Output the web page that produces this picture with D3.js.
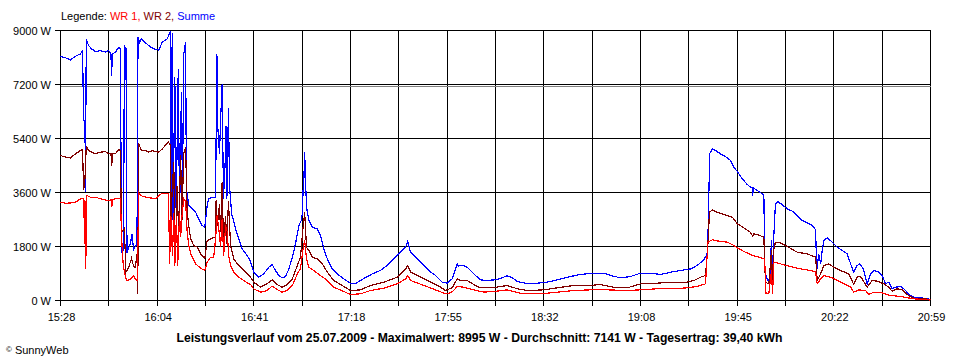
<!DOCTYPE html>
<html><head><meta charset="utf-8">
<script src="https://cdn.jsdelivr.net/npm/d3@7"></script>
<style>
body{margin:0;background:#fff;}
svg text{font-family:"Liberation Sans",Arial,sans-serif;}
</style></head>
<body><svg id="c" width="960" height="360"></svg>
<script>
// time in minutes after 15:28, power in W
const startLabel = "15:28";
const totalMinutes = 331;
const xTickLabels = ["15:28","16:04","16:41","17:18","17:55","18:32","19:08","19:45","20:22","20:59"];
const yTicks = [0,1800,3600,5400,7200,9000];
const yTickLabels = ["0 W","1800 W","3600 W","5400 W","7200 W","9000 W"];
const average = 7141;
const title = "Leistungsverlauf vom 25.07.2009 - Maximalwert: 8995 W - Durchschnitt: 7141 W - Tagesertrag: 39,40 kWh";
const seriesNames = ["WR 1", "WR 2", "Summe"];
const seriesColors = ["#ff0000", "#800000", "#0000ff"];

const summe = [[0,8140],[1.9,8090],[3.8,8020],[5.7,8140],[7.6,8220],[8.4,8330],[8.8,6000],[9.3,6000],[9.5,3610],[9.8,8700],[10.7,8500],[11.8,8390],[13.3,8300],[15.2,8330],[17.1,8280],[18.3,8330],[19.2,8220],[19.4,7500],[19.8,8220],[20.9,8280],[22.1,8440],[22.8,8400],[23.2,1600],[24.0,1700],[24.3,8480],[24.9,8400],[25.3,1600],[25.9,1750],[26.6,1900],[27.2,2200],[27.8,1700],[28.5,1800],[29.1,1900],[29.5,8780],[30.1,8600],[30.8,8720],[31.6,8650],[33.5,8500],[35.4,8390],[36.9,8360],[37.3,8330],[38.7,8610],[40.6,8720],[41.5,8900],[41.9,8995],[42.1,2700],[42.5,8900],[42.8,2700],[43.5,7440],[44.0,2940],[44.8,7720],[45.3,2800],[46.0,6940],[46.4,3600],[46.9,8220],[47.6,8610],[47.9,3720],[48.8,3170],[50.1,3060],[51.4,2940],[52.6,2720],[53.9,2500],[54.9,2440],[55.8,3170],[56.4,3390],[57.7,3440],[58.7,3440],[59.0,3450],[59.5,8220],[59.8,5830],[60.5,4900],[60.9,6000],[61.5,7220],[62.0,3390],[62.6,4500],[63.0,5830],[63.3,3400],[63.9,6400],[64.3,3830],[65.1,2900],[65.6,2730],[66.6,2390],[67.8,2055],[69.1,1720],[71.0,1500],[72.3,1300],[73.5,944],[75.4,777],[77.3,889],[79.3,1111],[80.5,1200],[81.8,1000],[83.1,833],[84.3,755],[85.6,800],[86.9,1055],[88.2,1444],[89.4,1889],[90.1,2222],[90.7,2500],[91.6,2667],[92.0,2889],[92.3,3667],[92.6,4055],[92.9,4943],[93.2,4055],[93.6,3111],[94.5,2667],[95.8,2444],[97.7,2389],[98.9,2167],[100.2,1722],[101.5,1390],[103.4,1055],[105.3,889],[107.8,722],[110.3,578],[112.2,555],[114.1,667],[116.7,800],[119.2,911],[121.7,1000],[124.3,1167],[126.8,1390],[129.4,1610],[131.3,1777],[131.8,1900],[132.1,2000],[132.4,1850],[133.2,1610],[135.1,1444],[137.6,1222],[140.1,1000],[142.7,833],[145.2,611],[147.1,578],[149.0,722],[150.3,1055],[150.9,1222],[151.4,1150],[153.4,1167],[154.7,1110],[156.0,1000],[157.9,833],[159.8,688],[162.3,666],[164.9,688],[166.8,722],[170.0,822],[171.9,755],[173.8,633],[176.9,578],[181.4,578],[185.2,611],[189.0,688],[192.8,777],[197.8,867],[202.9,911],[206.7,911],[209.3,833],[213.1,755],[216.9,800],[220.7,911],[224.6,911],[228.4,867],[232.2,944],[236.0,1000],[239.8,1055],[242.2,1167],[244.8,1355],[246.0,1555],[246.3,2000],[247.0,4900],[248.0,5055],[249.2,5000],[251.1,4889],[253.0,4800],[254.9,4667],[256.2,4444],[257.7,4277],[259.4,4055],[261.3,3867],[262.5,3780],[263.2,3780],[263.3,3500],[263.7,3750],[265.1,3667],[267.0,3555],[267.6,3520],[268.0,944],[269.0,667],[269.8,700],[270.5,2000],[270.8,667],[271.3,2000],[272.0,3222],[272.9,3300],[274.6,3190],[276.5,3055],[278.4,2980],[280.3,2833],[282.2,2667],[284.1,2590],[286.0,2500],[287.3,2355],[287.7,1000],[288.5,1550],[289.2,1220],[289.8,1667],[290.4,2000],[291.7,2090],[293.6,1945],[295.5,1777],[297.4,1667],[299.3,1555],[300.6,1222],[301.8,944],[303.1,1167],[304.1,1222],[305.4,1055],[306.9,555],[308.2,889],[309.5,1000],[311.4,944],[312.6,833],[313.9,555],[315.1,611],[316.4,390],[317.7,444],[319.6,467],[320.9,390],[322.8,200],[324.7,111],[327.2,90],[329.8,60],[331.0,30]];

const wr2 = [[0,4833],[1.9,4780],[3.8,4750],[5.7,4890],[7.6,5000],[8.4,5030],[8.8,3670],[9.3,4060],[9.8,5140],[10.7,5000],[11.8,4950],[13.3,4890],[15.2,4944],[17.1,4960],[18.3,4890],[19.2,4890],[19.5,4500],[19.8,4890],[20.9,4890],[22.1,5030],[22.8,5000],[23.2,2280],[24.3,2400],[24.9,950],[25.9,1100],[27.0,1400],[27.8,1150],[28.5,1100],[29.1,1555],[29.4,233],[29.7,5230],[30.8,5000],[32.3,5000],[33.5,4950],[35.0,5000],[36.1,4960],[37.3,4943],[38.7,5050],[39.9,5170],[41.1,5277],[41.7,5200],[41.9,1610],[42.4,3500],[43.1,4610],[43.4,2500],[43.8,1500],[44.3,3800],[45.0,2277],[45.7,4833],[46.2,2700],[46.9,4900],[47.6,5110],[48.2,2943],[48.8,2500],[49.5,2055],[50.7,1833],[52.0,1780],[53.3,1555],[54.9,1390],[55.8,2000],[57.1,2050],[58.3,2100],[59.0,2100],[59.2,3333],[59.7,2500],[60.5,3200],[60.9,2300],[61.5,3944],[62.0,1900],[62.8,2800],[63.3,1900],[63.9,3300],[64.7,1833],[65.9,1390],[67.8,1167],[69.7,1000],[71.6,833],[72.3,777],[73.5,611],[76.1,444],[78.6,555],[80.5,688],[82.4,533],[84.3,444],[86.3,533],[88.2,722],[90.1,1167],[91.3,1444],[92.3,2444],[92.9,2944],[93.6,1777],[94.5,1667],[95.8,1444],[97.7,1390],[99.6,1222],[101.5,944],[104.0,667],[107.2,500],[110.3,333],[114.1,355],[117.9,500],[123.0,611],[128.1,777],[131.3,1055],[132.1,1167],[133.2,944],[137.0,777],[140.8,611],[144.6,444],[146.5,333],[148.0,390],[149.0,420],[150.9,722],[152.2,667],[154.7,667],[157.2,533],[159.8,422],[164.9,422],[167.4,467],[170.0,500],[173.8,390],[177.6,333],[183.9,355],[189.0,422],[195.3,500],[201.6,500],[205.4,533],[210.5,444],[215.6,422],[220.7,555],[227.0,578],[233.3,611],[238.4,611],[241.0,667],[243.5,777],[245.4,833],[246.2,1667],[246.9,2944],[248.0,3022],[249.8,2944],[252.4,2867],[255.6,2777],[257.5,2555],[260.0,2422],[262.5,2277],[263.3,2150],[263.8,2220],[265.7,2180],[267.6,2110],[268.2,611],[269.5,555],[270.5,1667],[270.9,555],[271.3,1667],[272.0,1944],[273.3,1944],[276.5,1800],[280.3,1610],[284.1,1555],[287.3,1444],[287.9,667],[289.2,889],[290.4,1167],[292.3,1222],[294.2,1111],[296.8,1000],[299.9,889],[301.8,533],[303.1,778],[304.4,800],[306.9,444],[308.8,667],[310.7,644],[313.3,555],[315.1,444],[316.4,311],[318.3,389],[320.2,355],[322.1,200],[324.6,78],[329.8,45],[331.0,20]];

const wr1 = [[0,3277],[1.9,3244],[3.8,3250],[5.7,3277],[7.6,3389],[8.9,3390],[9.1,1890],[9.4,3300],[9.6,1056],[10.0,3500],[11.4,3444],[13.3,3444],[15.2,3389],[17.1,3350],[18.3,3333],[19.2,3350],[19.5,3111],[19.8,3350],[20.9,3400],[22.8,3400],[23.3,2000],[23.8,1277],[24.3,944],[25.1,667],[26.6,700],[27.8,833],[28.5,700],[29.3,667],[29.7,3611],[30.4,3500],[32.3,3450],[34.2,3420],[36.1,3389],[37.4,3500],[38.8,3578],[41.1,3578],[41.5,1222],[42.0,2800],[42.6,1500],[43.1,2900],[43.5,1167],[44.1,2800],[44.6,1167],[45.3,2900],[45.7,2110],[46.2,2800],[46.9,3389],[47.6,3300],[48.2,2277],[48.8,1833],[49.8,1500],[51.4,1222],[53.3,1078],[54.9,1000],[55.8,1277],[57.1,1444],[58.3,1444],[59.0,2055],[59.6,2833],[60.2,2400],[60.9,1800],[61.5,2700],[62.1,1500],[62.8,2500],[63.4,2300],[64.0,1500],[64.7,1167],[65.9,944],[67.8,777],[69.7,667],[71.6,555],[72.3,533],[73.5,390],[76.1,278],[78.6,333],[80.5,478],[82.4,367],[84.3,278],[86.3,333],[88.2,500],[90.1,889],[91.3,1055],[92.3,1722],[92.9,2000],[93.6,1390],[94.5,1111],[96.4,1000],[98.9,833],[101.5,667],[104.0,444],[107.8,300],[110.3,200],[114.1,222],[117.9,333],[123.0,411],[128.1,555],[131.3,722],[132.1,833],[133.2,667],[138.3,500],[143.3,333],[146.5,222],[148.0,244],[149.6,333],[150.9,467],[153.4,444],[157.2,355],[161.0,278],[166.1,311],[170.0,355],[175.0,244],[182.6,222],[189.0,278],[195.3,333],[201.6,355],[208.0,355],[215.6,333],[220.7,355],[227.0,390],[233.3,390],[238.4,422],[242.2,467],[245.4,555],[246.3,1944],[248.0,2022],[250.5,1977],[253.7,1944],[256.2,1833],[258.1,1722],[260.6,1611],[263.2,1500],[265.7,1444],[267.9,1390],[268.4,244],[269.5,222],[270.5,1000],[270.9,222],[271.4,1277],[272.0,1277],[273.9,1222],[277.7,1133],[281.6,1055],[285.4,1000],[287.3,944],[287.9,555],[289.2,722],[290.4,833],[293.0,778],[296.8,611],[300.6,444],[301.8,278],[303.7,355],[306.3,333],[307.5,200],[309.5,278],[312.6,255],[315.1,178],[319.6,133],[324.6,55],[329.8,30],[331.0,10]];

const svg = d3.select("#c");
const x = d3.scaleLinear().domain([0, totalMinutes]).range([60.5, 930.5]);
const y = d3.scaleLinear().domain([0, 9000]).range([300.5, 30.5]);

// vertical grid (18 intervals)
const xTickVals = d3.range(19).map(i => i * totalMinutes / 18);
const g = svg.append("g");
g.selectAll("line.v").data(xTickVals).join("line")
  .attr("x1", d => Math.round(x(d) - 0.5) + 0.5).attr("x2", d => Math.round(x(d) - 0.5) + 0.5)
  .attr("y1", y(9000)).attr("y2", y(0) + 5)
  .attr("stroke", "#000").attr("stroke-width", 1).attr("shape-rendering", "crispEdges");
g.selectAll("line.h").data(yTicks).join("line")
  .attr("x1", 55).attr("x2", x(totalMinutes))
  .attr("y1", d => Math.round(y(d) - 0.5) + 0.5).attr("y2", d => Math.round(y(d) - 0.5) + 0.5)
  .attr("stroke", "#000").attr("stroke-width", 1).attr("shape-rendering", "crispEdges");
// average line
g.append("line").attr("x1", x(0)).attr("x2", x(totalMinutes))
  .attr("y1", Math.round(y(average) - 0.5) + 0.5).attr("y2", Math.round(y(average) - 0.5) + 0.5)
  .attr("stroke", "#808080").attr("stroke-width", 1).attr("shape-rendering", "crispEdges");

// y labels
svg.selectAll("text.yl").data(yTicks).join("text")
  .attr("x", 51).attr("y", d => y(d) + 4)
  .attr("text-anchor", "end").attr("font-size", "11px").attr("fill", "#000")
  .text((d, i) => yTickLabels[i]);
// x labels
svg.selectAll("text.xl").data(xTickLabels).join("text")
  .attr("x", (d, i) => x(xTickVals[i * 2]) + 1).attr("y", 320.5)
  .attr("text-anchor", "middle").attr("font-size", "11px").attr("fill", "#000")
  .text(d => d);

// series lines
const line = d3.line().x(d => x(d[0])).y(d => y(d[1]));
const seriesData = [wr1, wr2, summe];
[2, 1, 0].forEach(i => {
  svg.append("path").datum(seriesData[i]).attr("d", line)
    .attr("fill", "none").attr("stroke", seriesColors[i]).attr("stroke-width", 1.2)
    .attr("shape-rendering", "crispEdges");
});

// legend
const leg = svg.append("text").attr("x", 61).attr("y", 20).attr("font-size", "11px");
leg.append("tspan").attr("fill", "#000").text("Legende: ");
seriesNames.forEach((n, i) => {
  leg.append("tspan").attr("fill", seriesColors[i]).text(n + (i < seriesNames.length - 1 ? ", " : ""));
});

// title
svg.append("text").attr("x", 479.5).attr("y", 341.5).attr("text-anchor", "middle")
  .attr("font-size", "12px").attr("font-weight", "bold").attr("fill", "#000")
  .attr("textLength", 606).attr("lengthAdjust", "spacingAndGlyphs").text(title);

// copyright
const cp = svg.append("text").attr("x", 6).attr("y", 353.5).attr("font-size", "11px").attr("fill", "#000");
cp.append("tspan").attr("font-size", "8px").attr("dy", "-2").text("©");
cp.append("tspan").attr("dy", "2").attr("dx", "3").text("SunnyWeb");
</script></body></html>
